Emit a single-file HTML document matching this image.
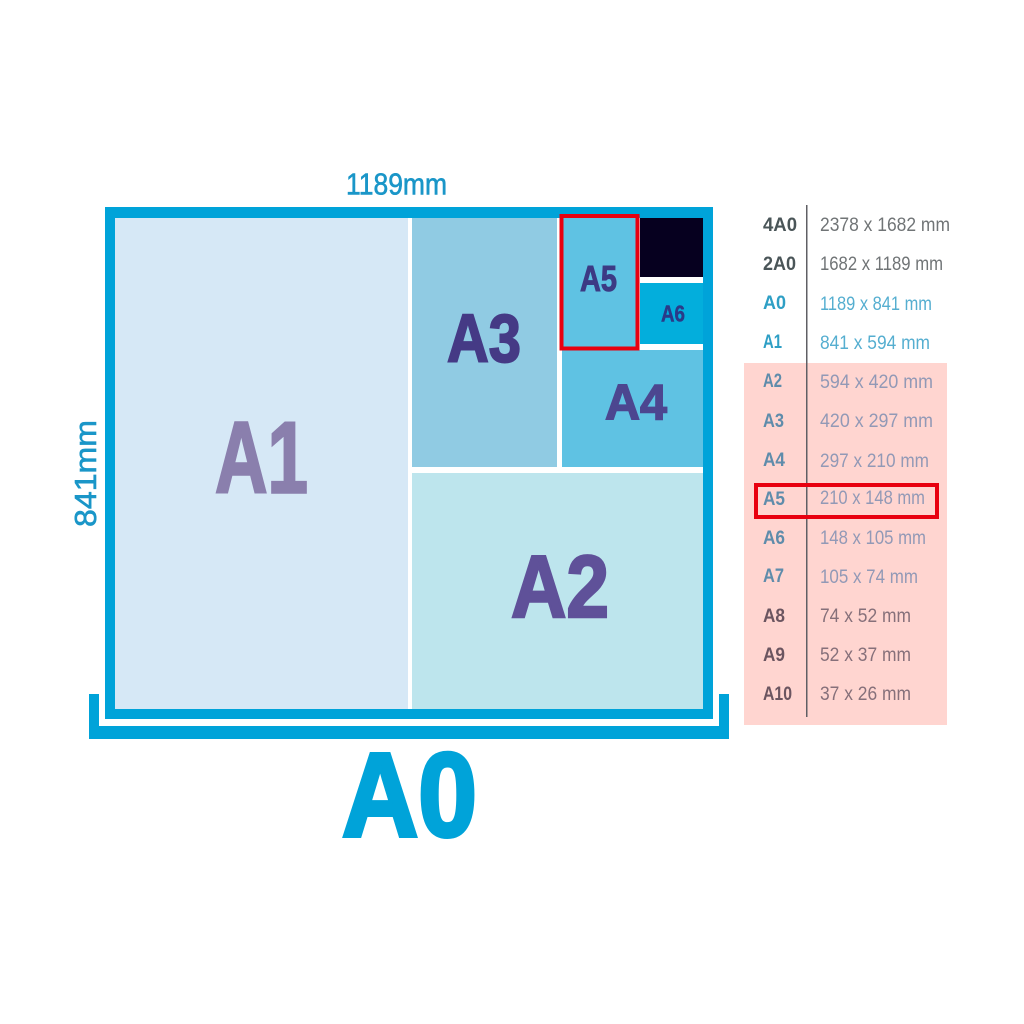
<!DOCTYPE html>
<html><head><meta charset="utf-8"><style>
html,body{margin:0;padding:0;background:#fff}
svg{display:block}
text{font-family:"Liberation Sans",sans-serif}
</style></head><body>
<svg width="1024" height="1024" viewBox="0 0 1024 1024" xmlns="http://www.w3.org/2000/svg">
<rect width="1024" height="1024" fill="#fff"/>
<!-- frame -->
<rect x="105" y="207" width="608" height="512" fill="#00a3d9"/>
<rect x="115" y="218" width="588" height="491" fill="#fff"/>
<rect x="115" y="218" width="293" height="491" fill="#d6e8f6"/>
<rect x="412" y="218" width="145" height="249" fill="#90cbe3"/>
<rect x="562" y="350" width="141" height="117" fill="#5fc2e3"/>
<rect x="412" y="473" width="291" height="236" fill="#bde5ed"/>
<rect x="562" y="218" width="76" height="130" fill="#5fc2e3"/>
<rect x="640" y="218" width="63" height="59" fill="#06001f"/>
<rect x="640" y="283" width="63" height="61" fill="#03aedc"/>
<rect x="561.500" y="216" width="76" height="132.500" fill="none" stroke="#e8000f" stroke-width="4"/>
<!-- bracket -->
<path d="M89 694H99V726H719V694H729V739H89Z" fill="#00a3d9"/>
<!-- labels in diagram -->
<g font-weight="700" stroke-linejoin="miter">
<text x="215" y="492.500" font-size="101" fill="#8a7fad" stroke="#8a7fad" stroke-width="2.500" textLength="93" lengthAdjust="spacingAndGlyphs">A1</text>
<text x="447" y="361.500" font-size="68" fill="#453a85" stroke="#453a85" stroke-width="2" textLength="74" lengthAdjust="spacingAndGlyphs">A3</text>
<text x="605" y="419.500" font-size="50" fill="#4c4690" stroke="#4c4690" stroke-width="1.500" textLength="62" lengthAdjust="spacingAndGlyphs">A4</text>
<text x="580" y="291" font-size="36" fill="#3c3a84" stroke="#3c3a84" stroke-width="1" textLength="37" lengthAdjust="spacingAndGlyphs">A5</text>
<text x="661" y="321.500" font-size="23" fill="#2a3a88" stroke="#2a3a88" stroke-width=".5" textLength="24" lengthAdjust="spacingAndGlyphs">A6</text>
<text x="511" y="617" font-size="88" fill="#5f5199" stroke="#5f5199" stroke-width="2.500" textLength="98" lengthAdjust="spacingAndGlyphs">A2</text>
<text x="342" y="836" font-size="119" fill="#00a3d9" stroke="#00a3d9" stroke-width="4" textLength="135" lengthAdjust="spacingAndGlyphs">A0</text>
</g>
<text x="346" y="194.500" font-size="31" fill="#1a96c8" stroke="#1a96c8" stroke-width=".6" textLength="101" lengthAdjust="spacingAndGlyphs">1189mm</text>
<text transform="translate(96 527) rotate(-90)" x="0" y="0" font-size="31" fill="#1a96c8" stroke="#1a96c8" stroke-width=".6" textLength="107" lengthAdjust="spacingAndGlyphs">841mm</text>
<!-- table -->
<rect x="744" y="363" width="203" height="362" fill="#ffd5d0"/>
<rect x="806" y="205" width="1.500" height="512" fill="#5f5f64"/>
<g font-size="19" font-weight="700">
<text x="763" y="231" fill="#4a5558" textLength="34" lengthAdjust="spacingAndGlyphs">4A0</text>
<text x="763" y="270" fill="#4a5558" textLength="33" lengthAdjust="spacingAndGlyphs">2A0</text>
<text x="763" y="309" fill="#2e9fc5" textLength="23" lengthAdjust="spacingAndGlyphs">A0</text>
<text x="763" y="348" fill="#2e9fc5" textLength="19" lengthAdjust="spacingAndGlyphs">A1</text>
<text x="763" y="387" fill="#5f8cab" textLength="19" lengthAdjust="spacingAndGlyphs">A2</text>
<text x="763" y="427" fill="#5f8cab" textLength="21" lengthAdjust="spacingAndGlyphs">A3</text>
<text x="763" y="466" fill="#5f8cab" textLength="22" lengthAdjust="spacingAndGlyphs">A4</text>
<text x="763" y="505" fill="#5f8cab" textLength="22" lengthAdjust="spacingAndGlyphs">A5</text>
<text x="763" y="544" fill="#5f8cab" textLength="22" lengthAdjust="spacingAndGlyphs">A6</text>
<text x="763" y="582" fill="#5f8cab" textLength="21" lengthAdjust="spacingAndGlyphs">A7</text>
<text x="763" y="622" fill="#6b5560" textLength="22" lengthAdjust="spacingAndGlyphs">A8</text>
<text x="763" y="661" fill="#6b5560" textLength="22" lengthAdjust="spacingAndGlyphs">A9</text>
<text x="763" y="700" fill="#6b5560" textLength="29" lengthAdjust="spacingAndGlyphs">A10</text>
</g>
<g font-size="19">
<text x="820" y="231" fill="#707476" textLength="130" lengthAdjust="spacingAndGlyphs">2378 x 1682 mm</text>
<text x="820" y="270" fill="#707476" textLength="123" lengthAdjust="spacingAndGlyphs">1682 x 1189 mm</text>
<text x="820" y="310" fill="#55aed0" textLength="112" lengthAdjust="spacingAndGlyphs">1189 x 841 mm</text>
<text x="820" y="349" fill="#55aed0" textLength="110" lengthAdjust="spacingAndGlyphs">841 x 594 mm</text>
<text x="820" y="388" fill="#9299b6" textLength="113" lengthAdjust="spacingAndGlyphs">594 x 420 mm</text>
<text x="820" y="427" fill="#9299b6" textLength="113" lengthAdjust="spacingAndGlyphs">420 x 297 mm</text>
<text x="820" y="467" fill="#9299b6" textLength="109" lengthAdjust="spacingAndGlyphs">297 x 210 mm</text>
<text x="820" y="504" fill="#9299b6" textLength="105" lengthAdjust="spacingAndGlyphs">210 x 148 mm</text>
<text x="820" y="544" fill="#9299b6" textLength="106" lengthAdjust="spacingAndGlyphs">148 x 105 mm</text>
<text x="820" y="583" fill="#9299b6" textLength="98" lengthAdjust="spacingAndGlyphs">105 x 74 mm</text>
<text x="820" y="622" fill="#86707a" textLength="91" lengthAdjust="spacingAndGlyphs">74 x 52 mm</text>
<text x="820" y="661" fill="#86707a" textLength="91" lengthAdjust="spacingAndGlyphs">52 x 37 mm</text>
<text x="820" y="700" fill="#86707a" textLength="91" lengthAdjust="spacingAndGlyphs">37 x 26 mm</text>
</g>
<rect x="756" y="485" width="181" height="32" fill="none" stroke="#e8000f" stroke-width="4"/>
</svg>
</body></html>
